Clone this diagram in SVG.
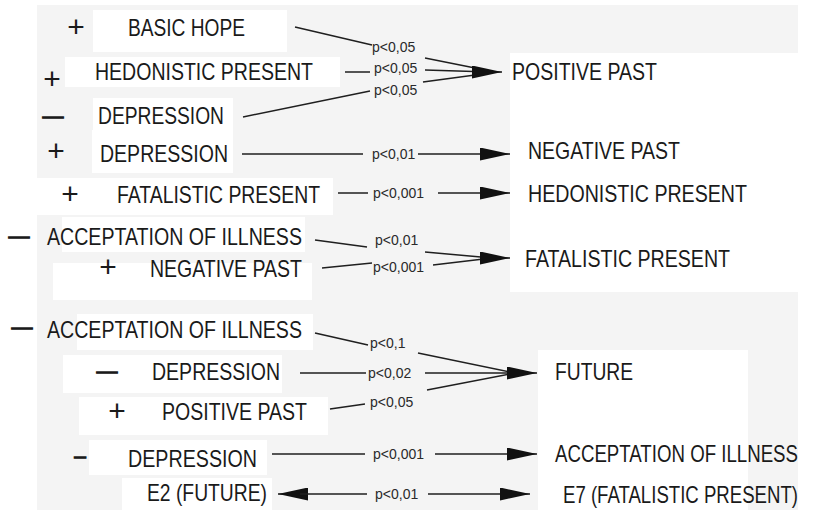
<svg xmlns="http://www.w3.org/2000/svg" width="814" height="510" viewBox="0 0 814 510">
<style>
.bg{fill:#f4f4f4}
.box{fill:#ffffff}
.t{font-family:"Liberation Sans",Arial,sans-serif;font-size:24px;fill:#1a1a1a}
.p{font-family:"Liberation Sans",Arial,sans-serif;font-size:14px;fill:#2a2a2a}
.sg{font-family:"Liberation Sans",Arial,sans-serif;font-size:30px;fill:#1a1a1a;text-anchor:middle}
.mn{font-family:"Liberation Sans",Arial,sans-serif;font-size:21px;fill:#1a1a1a;stroke:#1a1a1a;stroke-width:1.1;text-anchor:middle}
.ln{fill:none;stroke:#1f1f1f;stroke-width:1.5}
.ar{fill:none;stroke:#1f1f1f;stroke-width:1.5;marker-end:url(#ah)}
</style>
<defs>
<marker id="ah" markerWidth="30" markerHeight="13" refX="30" refY="6.5" orient="auto" markerUnits="userSpaceOnUse">
<path d="M0,0 L30,6.5 L0,13 Z" fill="#111111"/>
</marker>
</defs>
<rect width="814" height="510" fill="#ffffff"/>
<rect class="bg" x="37" y="5" width="761" height="505"/>
<rect class="box" x="510" y="53" width="304" height="239"/>
<rect class="box" x="538" y="350" width="210" height="160"/>

<g id="n-basic-hope"><rect class="box" x="93" y="10" width="194" height="42"/><text class="sg" x="76" y="37">+</text><text class="t" x="128" y="36" textLength="117" lengthAdjust="spacingAndGlyphs">BASIC HOPE</text></g>
<g id="n-hedonistic-l"><rect class="box" x="65" y="57" width="275" height="30"/><text class="sg" x="52" y="89">+</text><text class="t" x="95" y="80" textLength="218" lengthAdjust="spacingAndGlyphs">HEDONISTIC PRESENT</text></g>
<g id="n-depression-1"><rect class="box" x="93" y="98" width="140" height="32"/><text class="mn" x="53" y="123">—</text><text class="t" x="98" y="124" textLength="126" lengthAdjust="spacingAndGlyphs">DEPRESSION</text></g>
<g id="n-positive-past-r"><text class="t" x="512" y="80" textLength="145" lengthAdjust="spacingAndGlyphs">POSITIVE PAST</text></g>

<g id="n-depression-2"><rect class="box" x="92" y="130" width="141" height="43"/><text class="sg" x="56" y="161">+</text><text class="t" x="100" y="162" textLength="128" lengthAdjust="spacingAndGlyphs">DEPRESSION</text></g>
<g id="n-negative-past-r"><text class="t" x="528" y="159" textLength="152" lengthAdjust="spacingAndGlyphs">NEGATIVE PAST</text></g>

<g id="n-fatalistic-l"><rect class="box" x="37" y="178" width="296" height="37"/><text class="sg" x="70" y="204">+</text><text class="t" x="117" y="203" textLength="203" lengthAdjust="spacingAndGlyphs">FATALISTIC PRESENT</text></g>
<g id="n-hedonistic-r"><text class="t" x="528" y="202" textLength="219" lengthAdjust="spacingAndGlyphs">HEDONISTIC PRESENT</text></g>

<g id="n-acceptation-1"><rect class="box" x="62" y="217" width="243" height="35"/><text class="mn" x="19" y="243">—</text><text class="t" x="47" y="245" textLength="255" lengthAdjust="spacingAndGlyphs">ACCEPTATION OF ILLNESS</text></g>
<g id="n-negative-past-l"><rect class="box" x="53" y="263" width="259" height="37"/><text class="sg" x="108" y="277">+</text><text class="t" x="150" y="277" textLength="152" lengthAdjust="spacingAndGlyphs">NEGATIVE PAST</text></g>
<g id="n-fatalistic-r"><text class="t" x="525" y="267" textLength="205" lengthAdjust="spacingAndGlyphs">FATALISTIC PRESENT</text></g>

<g id="n-acceptation-2"><rect class="box" x="77" y="314" width="236" height="36"/><text class="mn" x="22" y="334">—</text><text class="t" x="47" y="338" textLength="255" lengthAdjust="spacingAndGlyphs">ACCEPTATION OF ILLNESS</text></g>
<g id="n-depression-3"><rect class="box" x="63" y="355" width="219" height="38"/><text class="mn" x="107" y="378">—</text><text class="t" x="152" y="380" textLength="128" lengthAdjust="spacingAndGlyphs">DEPRESSION</text></g>
<g id="n-positive-past-l"><rect class="box" x="79" y="397" width="249" height="38"/><text class="sg" x="117" y="421">+</text><text class="t" x="162" y="420" textLength="145" lengthAdjust="spacingAndGlyphs">POSITIVE PAST</text></g>
<g id="n-future"><text class="t" x="555" y="380" textLength="78" lengthAdjust="spacingAndGlyphs">FUTURE</text></g>

<g id="n-depression-4"><rect class="box" x="89" y="440" width="178" height="35"/><text class="mn" x="80" y="463">–</text><text class="t" x="128" y="467" textLength="129" lengthAdjust="spacingAndGlyphs">DEPRESSION</text></g>
<g id="n-acceptation-r"><text class="t" x="555" y="462" textLength="243" lengthAdjust="spacingAndGlyphs">ACCEPTATION OF ILLNESS</text></g>

<g id="n-e2"><rect class="box" x="122" y="478" width="150" height="32"/><text class="t" x="147" y="501" textLength="120" lengthAdjust="spacingAndGlyphs">E2 (FUTURE)</text></g>
<g id="n-e7"><text class="t" x="563" y="503" textLength="235" lengthAdjust="spacingAndGlyphs">E7 (FATALISTIC PRESENT)</text></g>

<g id="connectors">
<path class="ln" d="M295,27 L372,45"/><path class="ln" d="M425,58 L490,71"/>
<path class="ln" d="M345,72 L370,72"/><path class="ln" d="M425,70 L490,72"/>
<path class="ln" d="M243,117 L370,91"/><path class="ln" d="M423,82 L490,73"/>
<path class="ar" d="M480,72 L502,72"/>
<text class="p" x="372" y="52">p&lt;0,05</text>
<text class="p" x="374" y="73">p&lt;0,05</text>
<text class="p" x="374" y="95">p&lt;0,05</text>

<path class="ln" d="M242,154 L363,154"/><path class="ln" d="M418,154 L490,154"/>
<path class="ar" d="M485,154 L510,154"/>
<text class="p" x="372" y="159">p&lt;0,01</text>

<path class="ln" d="M338,193 L368,193"/><path class="ln" d="M438,193 L490,193"/>
<path class="ar" d="M485,193 L510,193"/>
<text class="p" x="373" y="198">p&lt;0,001</text>

<path class="ln" d="M315,240 L367,247"/><path class="ln" d="M425,252 L492,258"/>
<path class="ln" d="M322,268 L372,263"/><path class="ln" d="M433,265 L492,258"/>
<path class="ar" d="M485,258 L510,258"/>
<text class="p" x="375" y="245">p&lt;0,01</text>
<text class="p" x="373" y="272">p&lt;0,001</text>

<path class="ln" d="M315,333 L368,345"/><path class="ln" d="M418,353 L515,373"/>
<path class="ln" d="M300,373 L366,373"/><path class="ln" d="M425,373 L515,373"/>
<path class="ln" d="M330,409 L365,404"/><path class="ln" d="M427,390 L515,373"/>
<path class="ar" d="M510,373 L537,373"/>
<text class="p" x="370" y="348">p&lt;0,1</text>
<text class="p" x="368" y="378">p&lt;0,02</text>
<text class="p" x="370" y="407">p&lt;0,05</text>

<path class="ln" d="M272,454 L365,454"/><path class="ln" d="M435,454 L515,454"/>
<path class="ar" d="M510,454 L537,454"/>
<text class="p" x="373" y="459">p&lt;0,001</text>

<path class="ar" d="M300,494 L278,494"/>
<path class="ln" d="M300,494 L367,494"/>
<path class="ln" d="M428,494 L505,494"/>
<path class="ar" d="M500,494 L530,494"/>
<text class="p" x="375" y="499">p&lt;0,01</text>
</g>
</svg>
